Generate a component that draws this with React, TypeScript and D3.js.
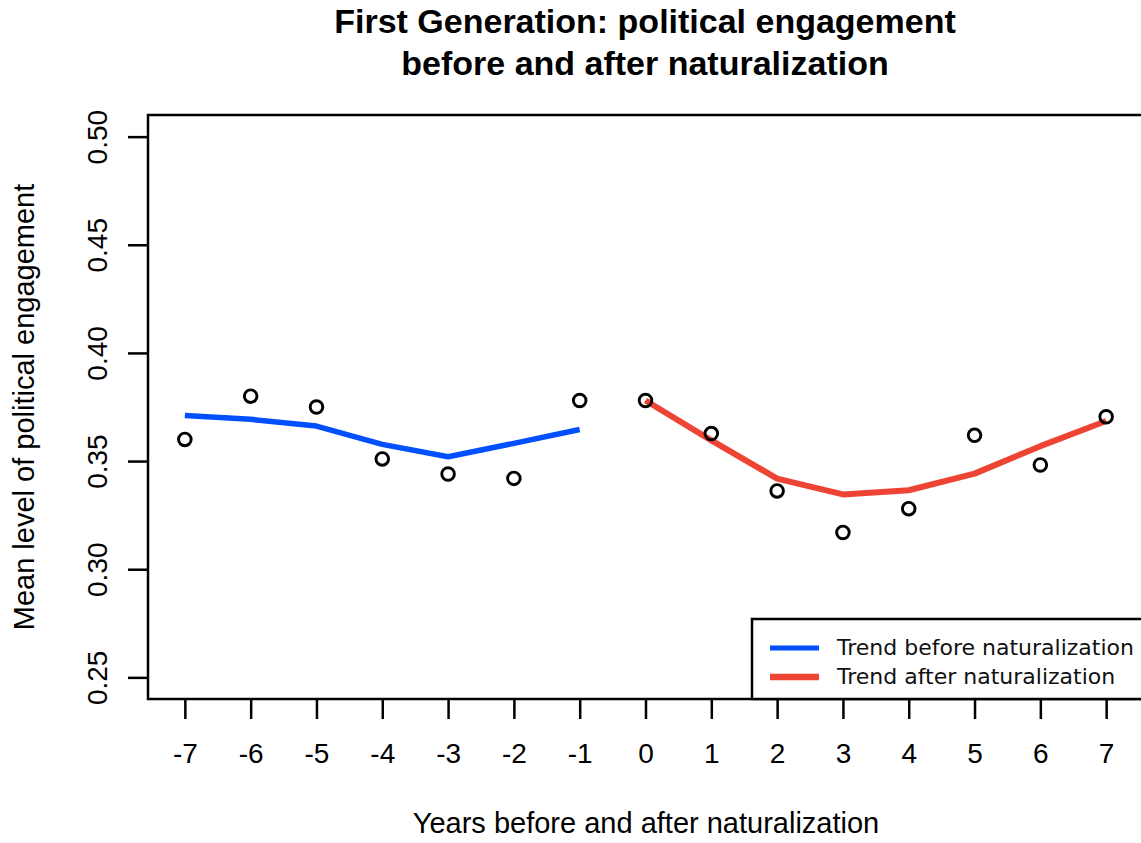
import { useEffect, useRef } from "react";
import * as d3 from "d3";

const width = 1141;
const height = 843;

// plot box (R style, 4% padding on both axes)
const plot = { left: 148, right: 1143, top: 115, bottom: 699 };

const xTicks = [-7, -6, -5, -4, -3, -2, -1, 0, 1, 2, 3, 4, 5, 6, 7];
const yTicks = [0.25, 0.3, 0.35, 0.4, 0.45, 0.5];

const beforeYears = [-7, -6, -5, -4, -3, -2, -1];
const beforeMeans = [0.36, 0.38, 0.375, 0.351, 0.344, 0.342, 0.378];
const beforeTrend = [0.3711, 0.3693, 0.3662, 0.3577, 0.352, 0.3582, 0.3646];

const afterYears = [0, 1, 2, 3, 4, 5, 6, 7];
const afterMeans = [0.378, 0.3627, 0.3362, 0.317, 0.328, 0.3619, 0.3482, 0.3705];
const afterTrend = [0.378, 0.3596, 0.3419, 0.3346, 0.3365, 0.3442, 0.3569, 0.3685];

const legendLabels = ["Trend before naturalization", "Trend after naturalization"];

const blue = "#0050ff";
const red = "#ee4433";
const font = "'Liberation Sans', Arial, Helvetica, sans-serif";

export default function App() {
  const svgRef = useRef<SVGSVGElement | null>(null);

  useEffect(() => {
    if (!svgRef.current) return;
    const svg = d3.select(svgRef.current);
    svg.selectAll("*").remove();

    const x = d3.scaleLinear().domain([-7.56, 7.56]).range([plot.left, plot.right]);
    const y = d3.scaleLinear().domain([0.24, 0.51]).range([plot.bottom, plot.top]);

    // title
    const title = svg
      .append("text")
      .attr("text-anchor", "middle")
      .style("font-family", font)
      .style("font-weight", "bold")
      .style("font-size", "34px");
    title.append("tspan").attr("x", 645).attr("y", 33).text("First Generation: political engagement");
    title.append("tspan").attr("x", 645).attr("y", 75).text("before and after naturalization");

    // axes (plain hyphen for negatives, like R)
    const xAxis = svg
      .append("g")
      .attr("transform", `translate(0,${plot.bottom})`)
      .call(
        d3
          .axisBottom(x)
          .tickValues(xTicks)
          .tickSize(20)
          .tickFormat((d) => String(d))
      );
    xAxis.select(".domain").remove();
    xAxis.selectAll("line").attr("stroke-width", 2.5);
    xAxis
      .selectAll("text")
      .style("font-family", font)
      .style("font-size", "28px")
      .attr("dy", 0)
      .attr("y", 64);

    const yAxis = svg
      .append("g")
      .attr("transform", `translate(${plot.left},0)`)
      .call(d3.axisLeft(y).tickValues(yTicks).tickSize(20).tickFormat(d3.format(".2f")));
    yAxis.select(".domain").remove();
    yAxis.selectAll("line").attr("stroke-width", 2.5);
    yAxis
      .selectAll("text")
      .style("font-family", font)
      .style("font-size", "28px")
      .attr("text-anchor", "middle")
      .attr("dy", 0)
      .attr("x", 0)
      .attr("y", 0)
      .attr("transform", "translate(-41,0) rotate(-90)");

    // box
    svg
      .append("rect")
      .attr("x", plot.left)
      .attr("y", plot.top)
      .attr("width", plot.right - plot.left)
      .attr("height", plot.bottom - plot.top)
      .attr("fill", "none")
      .attr("stroke", "#000")
      .attr("stroke-width", 2.5);

    // axis titles
    svg
      .append("text")
      .attr("x", 646)
      .attr("y", 833)
      .attr("text-anchor", "middle")
      .style("font-family", font)
      .style("font-size", "29px")
      .text("Years before and after naturalization");

    svg
      .append("text")
      .attr("transform", `translate(34,407) rotate(-90)`)
      .attr("text-anchor", "middle")
      .style("font-family", font)
      .style("font-size", "29px")
      .text("Mean level of political engagement");

    // trend lines
    const line = d3
      .line<[number, number]>()
      .x((d) => x(d[0]))
      .y((d) => y(d[1]));

    svg
      .append("path")
      .datum(beforeYears.map((yr, i) => [yr, beforeTrend[i]] as [number, number]))
      .attr("d", line)
      .attr("fill", "none")
      .attr("stroke", blue)
      .attr("stroke-width", 5.5)
      .attr("stroke-linejoin", "round");

    svg
      .append("path")
      .datum(afterYears.map((yr, i) => [yr, afterTrend[i]] as [number, number]))
      .attr("d", line)
      .attr("fill", "none")
      .attr("stroke", red)
      .attr("stroke-width", 6)
      .attr("stroke-linejoin", "round");

    // points
    const pts = [
      ...beforeYears.map((yr, i) => [yr, beforeMeans[i]]),
      ...afterYears.map((yr, i) => [yr, afterMeans[i]]),
    ];
    svg
      .append("g")
      .selectAll("circle")
      .data(pts)
      .join("circle")
      .attr("cx", (d) => x(d[0]))
      .attr("cy", (d) => y(d[1]))
      .attr("r", 6.3)
      .attr("fill", "none")
      .attr("stroke", "#000")
      .attr("stroke-width", 2.9);

    // legend
    const legend = svg.append("g");
    legend
      .append("rect")
      .attr("x", 752)
      .attr("y", 619)
      .attr("width", 500)
      .attr("height", plot.bottom - 619)
      .attr("fill", "#fff")
      .attr("stroke", "#000")
      .attr("stroke-width", 2.5);

    const colors = [blue, red];
    const items = legend
      .selectAll("g.item")
      .data(legendLabels)
      .join("g")
      .attr("class", "item")
      .attr("transform", (_, i) => `translate(0,${648 + i * 29})`);
    items
      .append("line")
      .attr("x1", 770)
      .attr("x2", 819)
      .attr("stroke", (_, i) => colors[i])
      .attr("stroke-width", (_, i) => (i === 0 ? 5 : 6.5));
    items
      .append("text")
      .attr("x", 837)
      .attr("y", 7)
      .style("font-family", "'DejaVu Sans', sans-serif")
      .style("font-size", "22px")
      .attr("fill", "#111")
      .text((d) => d);
  }, []);

  return (
    <svg
      ref={svgRef}
      width={width}
      height={height}
      viewBox={`0 0 ${width} ${height}`}
      style={{ position: "absolute", left: 0, top: 0, background: "#fff" }}
    />
  );
}
